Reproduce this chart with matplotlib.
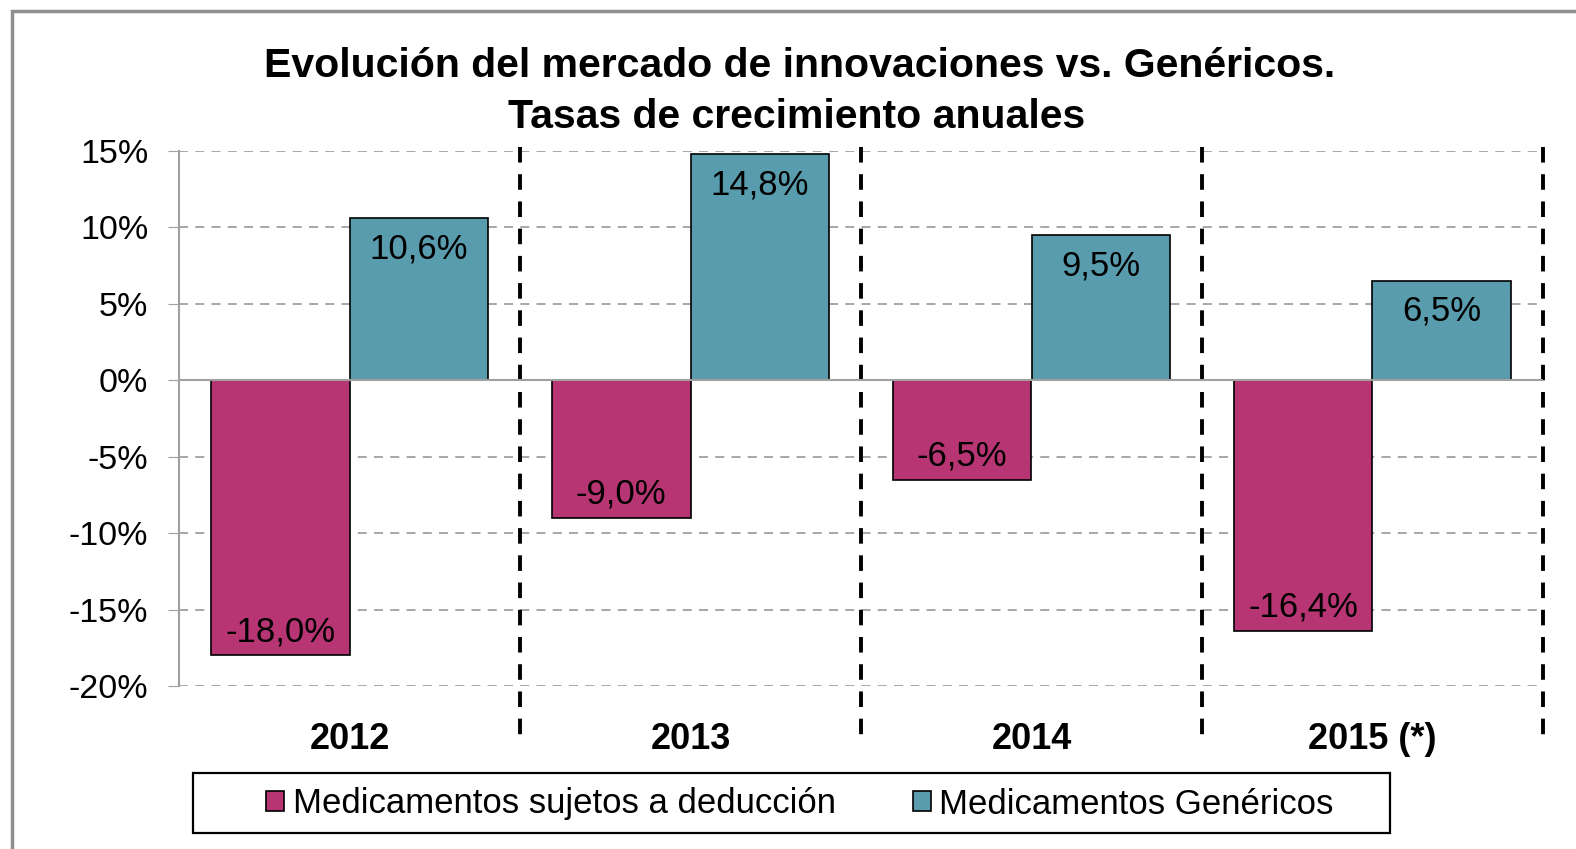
import matplotlib.pyplot as plt
from matplotlib.patches import Rectangle
import numpy as np

plt.rcParams["font.family"] = ["Liberation Sans", "DejaVu Sans"]

# datos
years = ["2012", "2013", "2014", "2015 (*)"]
deduccion = [-18.0, -9.0, -6.5, -16.4]
genericos = [10.6, 14.8, 9.5, 6.5]
series_names = ["Medicamentos sujetos a deducción", "Medicamentos Genéricos"]
yticks = [-20, -15, -10, -5, 0, 5, 10, 15]

col_mag = "#B73573"
col_teal = "#589CAD"

W, H = 1576, 849
fig = plt.figure(figsize=(W / 100, H / 100), dpi=100)
ax = fig.add_axes([179 / W, 1 - 686 / H, (1543 - 179) / W, (686 - 151) / H])

# marco exterior gris (se sale de la imagen por la derecha y abajo)
fig.patches.append(
    Rectangle((12 / W, -0.2), 1.2, 1.2 - 11 / H,
              transform=fig.transFigure, fill=False,
              edgecolor="#8f8f8f", linewidth=2.5, zorder=0)
)

x = np.arange(len(years))
w = 0.407
b1 = ax.bar(x - w / 2, deduccion, w, color=col_mag, edgecolor="black",
            linewidth=1.2, label=series_names[0], zorder=3)
b2 = ax.bar(x + w / 2, genericos, w, color=col_teal, edgecolor="black",
            linewidth=1.2, label=series_names[1], zorder=3)


def fmt(v):
    return f"{v:.1f}%".replace(".", ",")


for bars, vals in ((b1, deduccion), (b2, genericos)):
    for r, v in zip(bars, vals):
        off = -22 if v > 0 else 17
        ax.annotate(fmt(v), (r.get_x() + r.get_width() / 2, v),
                    xytext=(0, off), textcoords="offset points",
                    ha="center", va="center", fontsize=25, zorder=5)

ax.set_xlim(-0.5, len(years) - 0.5)
ax.set_ylim(-20, 15)
ax.set_yticks(yticks)
ax.set_yticklabels([f"{t}%" for t in yticks], fontsize=24.5)
ax.set_xticks(x)
ax.set_xticklabels(years, fontsize=26, fontweight="bold")
ax.tick_params(axis="x", length=0, pad=26)
ax.tick_params(axis="y", length=8, color="#a0a0a0", pad=14, direction="out")

for t in yticks:
    if t == 0:
        ax.axhline(0, color="#a0a0a0", linewidth=1.5, zorder=4)
    else:
        ax.axhline(t, color="#a0a0a0", linewidth=1.3, linestyle=(0, (5, 4)), zorder=1)

for s in ("top", "right", "bottom"):
    ax.spines[s].set_visible(False)
ax.spines["left"].set_color("#a0a0a0")
ax.spines["left"].set_linewidth(1.5)

# separadores verticales de categoria
for xb in np.arange(0.5, len(years), 1.0):
    ax.plot([xb, xb], [1.008, -0.102], transform=ax.get_xaxis_transform(),
            color="black", linewidth=2.8, linestyle=(0, (4, 3)),
            clip_on=False, zorder=2)

fig.text(800 / W, 1 - 66 / H, "Evolución del mercado de innovaciones vs. Genéricos.",
         ha="center", va="center", fontsize=29.5, fontweight="bold")
fig.text(797 / W, 1 - 117 / H, "Tasas de crecimiento anuales",
         ha="center", va="center", fontsize=29.5, fontweight="bold")

# leyenda con marco propio
fig.patches.append(
    Rectangle((193 / W, 1 - 833 / H), (1390 - 193) / W, 60 / H,
              transform=fig.transFigure, fill=True, facecolor="white",
              edgecolor="black", linewidth=1.6, zorder=1)
)
leg = fig.legend(handles=[b1, b2], loc="center", bbox_to_anchor=(800 / W, 1 - 804 / H),
                 ncol=2, fontsize=25, frameon=False,
                 handlelength=0.52, handleheight=0.52,
                 handletextpad=0.25, columnspacing=2.2, borderpad=0.2)

fig.savefig("out.png", dpi=100, facecolor="white")
